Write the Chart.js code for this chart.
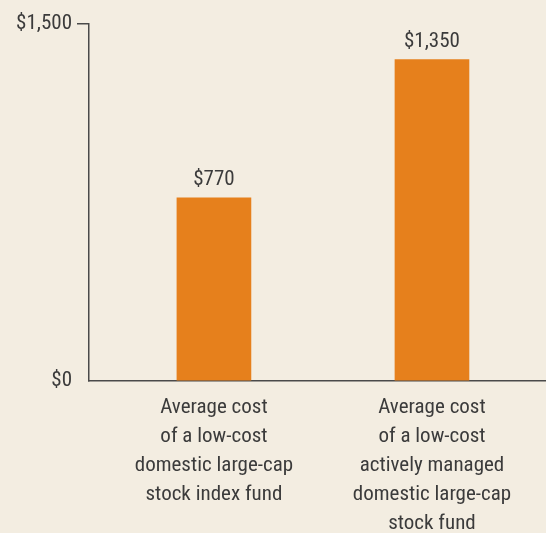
<!DOCTYPE html>
<html lang="en">
<head>
  <meta charset="UTF-8" />
  <title>Average cost of a fund</title>
  <script src="https://cdn.jsdelivr.net/npm/chart.js"></script>
  <style>
    html, body { margin: 0; padding: 0; background: #f3ede1; }
    #wrap { position: relative; width: 546px; height: 533px; }
  </style>
</head>
<body>
  <div id="wrap"><canvas id="costChart"></canvas></div>

  <script>
    const categories = [
      ['Average cost', 'of a low-cost', 'domestic large-cap', 'stock index fund'],
      ['Average cost', 'of a low-cost', 'actively managed', 'domestic large-cap', 'stock fund']
    ];
    const costs = [770, 1350];
    const yTicks = [0, 1500];

    const FONT = "'Liberation Sans Narrow', 'Roboto Condensed', 'DejaVu Sans Condensed', sans-serif";
    const TEXT = '#3b3b3b';
    const money = v => '$' + v.toLocaleString('en-US');

    const valueLabels = {
      id: 'valueLabels',
      afterDatasetsDraw(chart) {
        const ctx = chart.ctx;
        ctx.save();
        ctx.font = '21px ' + FONT;
        ctx.fillStyle = TEXT;
        ctx.textAlign = 'center';
        ctx.textBaseline = 'bottom';
        chart.getDatasetMeta(0).data.forEach((bar, i) => {
          ctx.fillText(money(costs[i]), bar.x, bar.y - 7);
        });
        ctx.restore();
      }
    };

    new Chart(document.getElementById('costChart'), {
      type: 'bar',
      data: {
        datasets: [{
          data: costs.map((v, i) => ({ x: i, y: v })),
          backgroundColor: '#e6801c',
          barThickness: 74
        }]
      },
      options: {
        responsive: true,
        maintainAspectRatio: false,
        animation: false,
        layout: { padding: { top: 24, right: 0, left: 0, bottom: 0 } },
        plugins: { legend: { display: false }, tooltip: { enabled: false } },
        scales: {
          x: {
            type: 'linear',
            offset: false,
            min: -0.573,
            max: 1.523,
            afterBuildTicks: s => { s.ticks = categories.map((c, i) => ({ value: i })); },
            afterFit: s => { s.height = 152; },
            grid: { display: false, drawTicks: false, offset: false },
            border: { color: '#4a4a4a', width: 1.5 },
            ticks: {
              autoSkip: false,
              maxRotation: 0,
              padding: 12,
              color: TEXT,
              font: { family: FONT, size: 21, lineHeight: '29px' },
              callback: v => categories[v]
            }
          },
          y: {
            min: yTicks[0],
            max: yTicks[1],
            afterBuildTicks: s => { s.ticks = yTicks.map(v => ({ value: v })); },
            afterFit: s => { s.width = 89; },
            grid: {
              drawOnChartArea: false,
              tickLength: 12,
              lineWidth: 1.5,
              color: c => c.tick && c.tick.value === 0 ? 'rgba(0,0,0,0)' : '#4a4a4a'
            },
            border: { color: '#4a4a4a', width: 1.5 },
            ticks: {
              padding: 5,
              color: TEXT,
              font: { family: FONT, size: 21 },
              callback: v => money(v)
            }
          }
        }
      },
      plugins: [valueLabels]
    });
  </script>
</body>
</html>
